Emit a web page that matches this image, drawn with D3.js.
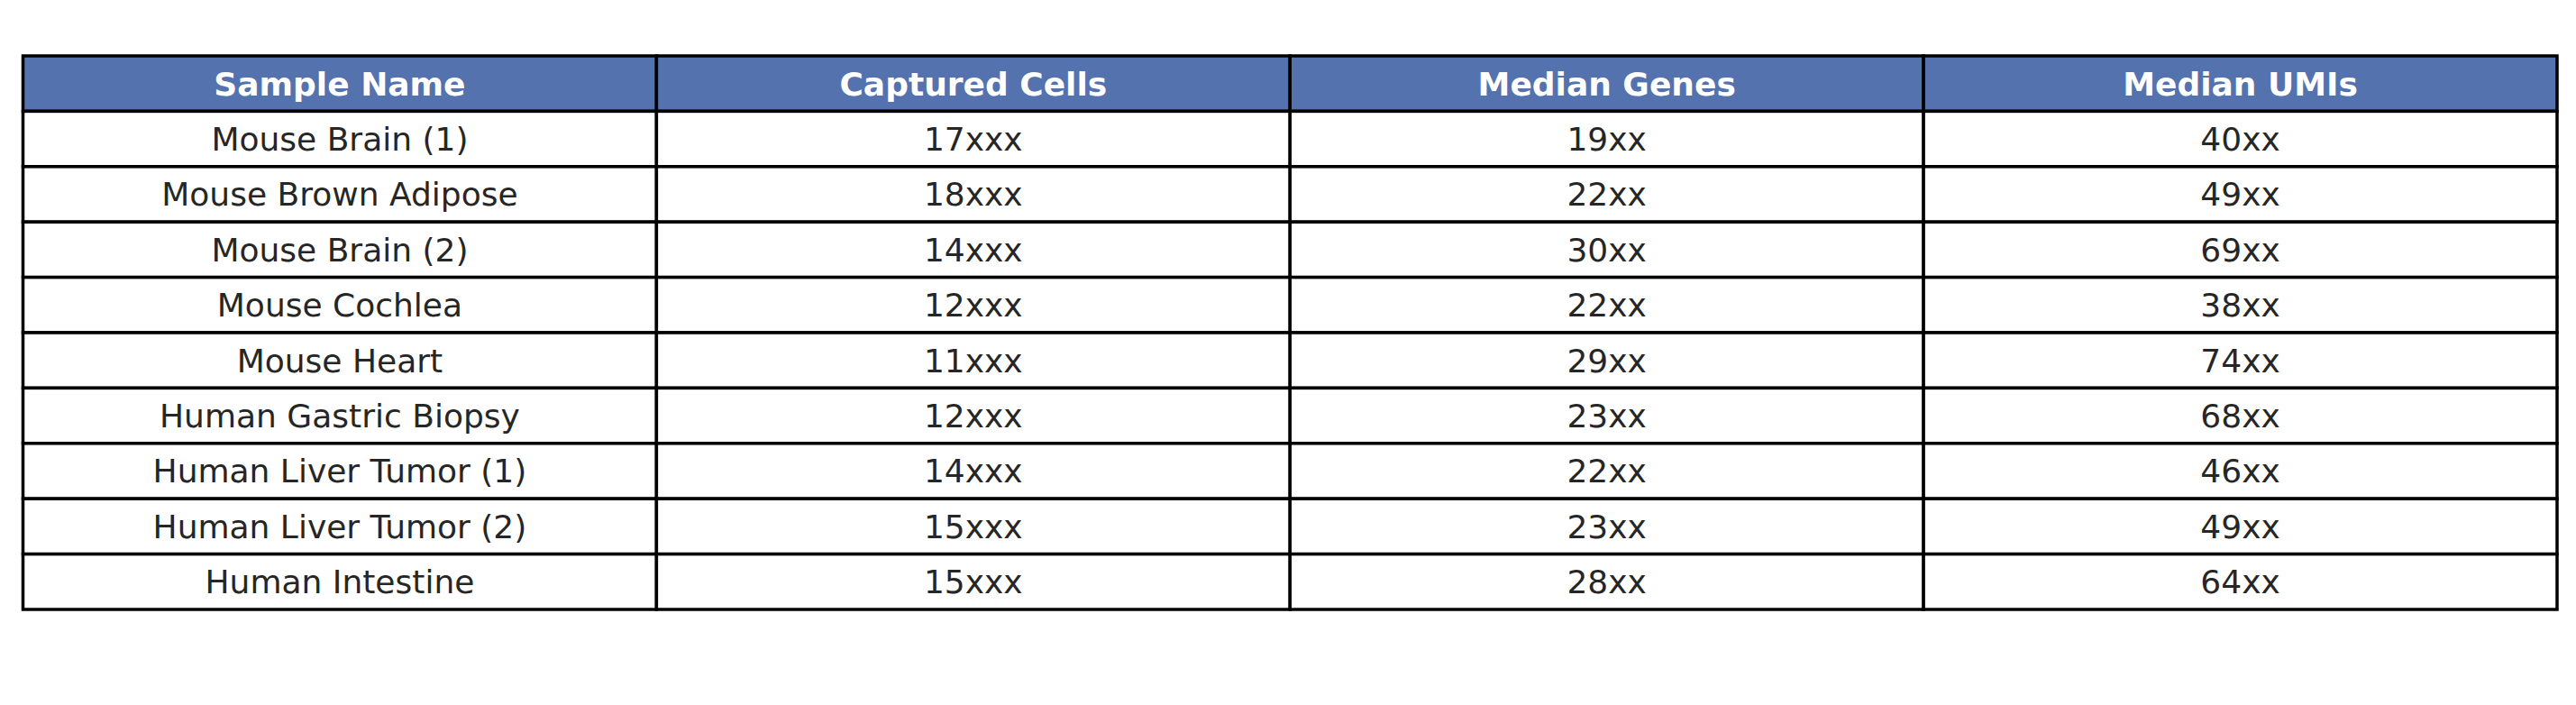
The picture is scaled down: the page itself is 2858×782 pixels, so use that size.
<!DOCTYPE html>
<html><head><meta charset="utf-8">
<script src="https://cdn.jsdelivr.net/npm/d3@7"></script>
<style>body{margin:0;background:#fff}</style></head>
<body><svg id="c" width="2858" height="782"></svg>
<script>
const columns = ["Sample Name","Captured Cells","Median Genes","Median UMIs"];
const samples = ["Mouse Brain (1)","Mouse Brown Adipose","Mouse Brain (2)","Mouse Cochlea","Mouse Heart","Human Gastric Biopsy","Human Liver Tumor (1)","Human Liver Tumor (2)","Human Intestine"];
const cells = ["17xxx","18xxx","14xxx","12xxx","11xxx","12xxx","14xxx","15xxx","15xxx"];
const genes = ["19xx","22xx","30xx","22xx","29xx","23xx","22xx","23xx","28xx"];
const umis = ["40xx","49xx","69xx","38xx","74xx","68xx","46xx","49xx","64xx"];

const rows = samples.map((s,i)=>[s,cells[i],genes[i],umis[i]]);
const svg = d3.select("#c");
const x = d3.scaleBand().domain(columns).range([25.5,2837]);
const y = d3.scaleBand().domain(d3.range(rows.length+1)).range([62,676]);
const fs = 36;
// header
const hdr = svg.append("g");
columns.forEach(c=>{
  hdr.append("rect").attr("x",x(c)).attr("y",y(0)).attr("width",x.bandwidth()).attr("height",y.bandwidth())
    .attr("fill","#5472ae").attr("stroke","#000").attr("stroke-width",3.5);
  hdr.append("text").attr("x",x(c)+x.bandwidth()/2).attr("y",y(0)+y.bandwidth()/2).attr("dy","0.36em")
    .attr("text-anchor","middle").attr("font-family","DejaVu Sans").attr("font-weight","bold")
    .attr("font-size",fs).attr("fill","#fff").text(c);
});
const body = svg.append("g");
rows.forEach((r,i)=>{
  r.forEach((v,j)=>{
    const c = columns[j];
    body.append("rect").attr("x",x(c)).attr("y",y(i+1)).attr("width",x.bandwidth()).attr("height",y.bandwidth())
      .attr("fill","#fff").attr("stroke","#000").attr("stroke-width",3.5);
    body.append("text").attr("x",x(c)+x.bandwidth()/2).attr("y",y(i+1)+y.bandwidth()/2).attr("dy","0.36em")
      .attr("text-anchor","middle").attr("font-family","DejaVu Sans")
      .attr("font-size",fs).attr("fill","#262626").text(v);
  });
});
</script></body></html>
